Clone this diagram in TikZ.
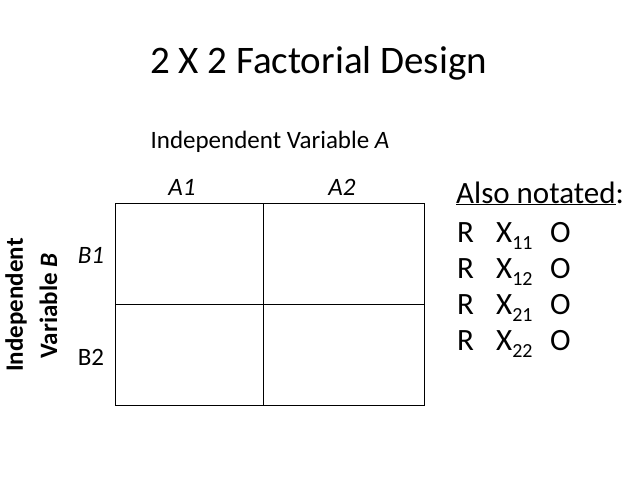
\documentclass[tikz,border=0pt]{standalone}
\usepackage{fontspec}
\setmainfont{Carlito}
\newcommand{\subnum}[1]{\raisebox{-7pt}{\fontsize{20}{20}\selectfont #1}}
\newcommand{\notrow}[1]{\makebox[39pt][l]{R}\makebox[54pt][l]{X\subnum{#1}}O}
\begin{document}
\begin{tikzpicture}[x=1pt,y=-1pt,
  lbl/.style={inner sep=0pt, anchor=base, font=\fontsize{25}{30}\selectfont},
  side/.style={inner sep=0pt, anchor=base, rotate=90, font=\fontsize{25}{30}\selectfont\bfseries},
  notes/.style={inner sep=0pt, anchor=base west, font=\fontsize{31}{36}\selectfont},
  cell/.style={draw=black, line width=0.8pt}]
\useasboundingbox (0,0) rectangle (638,479);
\node[inner sep=0pt, anchor=base, font=\fontsize{39}{46}\selectfont] (title) at (318.5,73) {2 X 2 Factorial Design};
\node[lbl] (iva) at (270,148) {Independent Variable \textit{A}};
\node[lbl] (a1) at (182,195) {\textit{A1}};
\node[lbl] (a2) at (342,195) {\textit{A2}};
\node[lbl] (b1) at (91,263) {\textit{B1}};
\node[lbl] (b2) at (91,365) {B2};
\node[side] (ivb1) at (23,305) {Independent};
\node[side] (ivb2) at (57,306) {Variable \textit{B}};
\coordinate (tl) at (115,203);
\coordinate (br) at (424,405);
\coordinate (mt) at (263,203);
\coordinate (mb) at (263,405);
\coordinate (ml) at (115,304);
\coordinate (mr) at (424,304);
\draw[cell] (tl) rectangle (br);
\draw[cell] (mt) -- (mb);
\draw[cell] (ml) -- (mr);
\node[notes] (also) at (456,203) {\underline{Also notated}:};
\node[notes] (r1) at (457,242) {\notrow{11}};
\node[notes] (r2) at (457,278) {\notrow{12}};
\node[notes] (r3) at (457,314) {\notrow{21}};
\node[notes] (r4) at (457,350) {\notrow{22}};
\end{tikzpicture}
\end{document}
